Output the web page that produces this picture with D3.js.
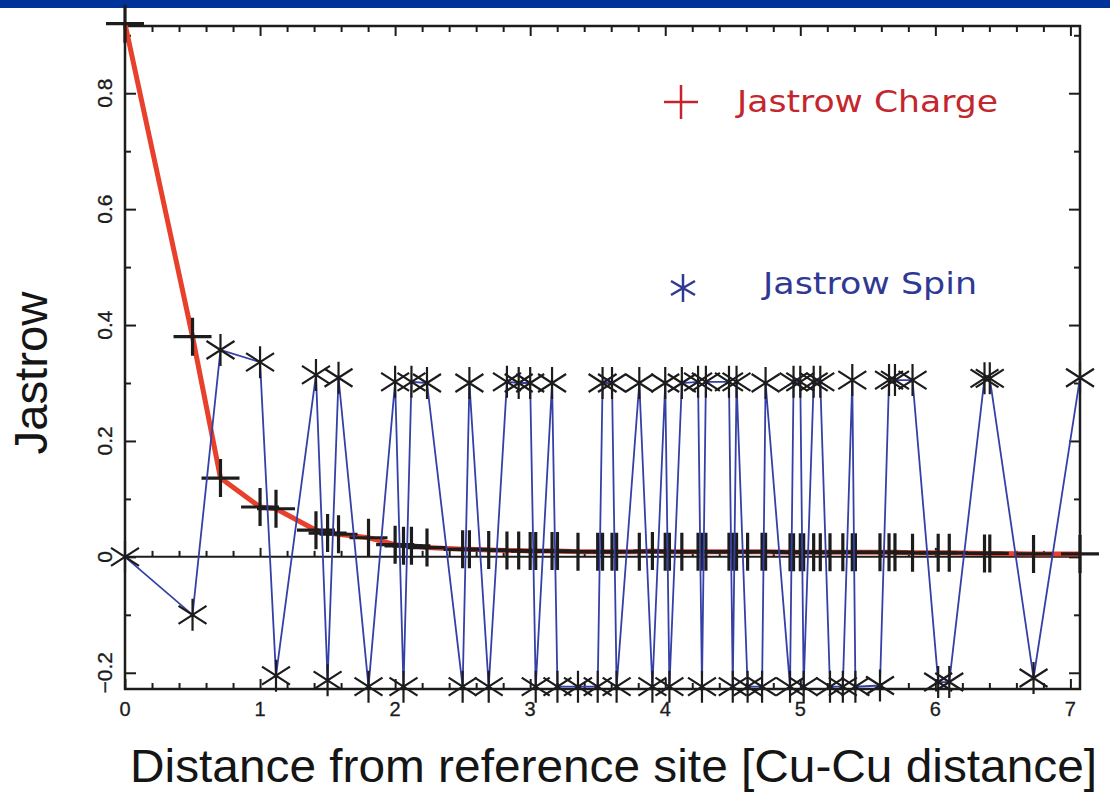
<!DOCTYPE html>
<html>
<head>
<meta charset="utf-8">
<script src="https://cdn.jsdelivr.net/npm/d3@7"></script>
<style>
  body { margin: 0; background: #fff; }
  svg { display: block; }
</style>
</head>
<body>
<div id="chart"></div>
<script>
// distance from reference site, in Cu-Cu units
const distances = [0, 0.5, 0.707, 1.0, 1.118, 1.414, 1.5, 1.581, 1.803, 2.0,
  2.062, 2.121, 2.236, 2.5, 2.55, 2.693, 2.828, 2.915, 3.0, 3.041,
  3.162, 3.202, 3.354, 3.5, 3.536, 3.606, 3.64, 3.808, 3.905, 4.0,
  4.031, 4.123, 4.243, 4.272, 4.301, 4.472, 4.5, 4.528, 4.61, 4.717,
  4.743, 4.924, 4.95, 5.0, 5.025, 5.099, 5.148, 5.22, 5.315, 5.385,
  5.408, 5.59, 5.657, 5.701, 5.831, 6.021, 6.103, 6.364, 6.403, 6.727, 7.071]

// Jastrow charge
const charge = [0.92, 0.38, 0.136, 0.086, 0.083, 0.046, 0.041, 0.039, 0.033, 0.021,
  0.019, 0.019, 0.016, 0.013, 0.013, 0.012, 0.011, 0.011, 0.010, 0.010,
  0.010, 0.010, 0.009, 0.009, 0.009, 0.009, 0.009, 0.009, 0.010, 0.009,
  0.009, 0.009, 0.009, 0.009, 0.009, 0.009, 0.009, 0.009, 0.009, 0.009,
  0.009, 0.008, 0.008, 0.008, 0.008, 0.008, 0.008, 0.008, 0.008, 0.008,
  0.008, 0.008, 0.008, 0.008, 0.007, 0.007, 0.007, 0.006, 0.006, 0.005, 0.005]

// Jastrow spin
const spin = [0, -0.10, 0.357, 0.336, -0.205, 0.314, -0.213, 0.309, -0.224, 0.302,
  -0.224, 0.302, 0.300, -0.224, 0.300, -0.224, 0.302, 0.300, 0.300, -0.224,
  0.300, -0.224, -0.224, -0.224, 0.300, 0.300, -0.224, 0.300, -0.224, 0.300,
  -0.224, 0.300, 0.302, -0.224, 0.302, 0.302, -0.224, 0.302, -0.224, -0.224,
  0.300, -0.224, 0.302, 0.302, -0.224, 0.302, 0.302, -0.224, -0.224, 0.305,
  -0.224, -0.222, 0.305, 0.305, 0.305, -0.216, -0.216, 0.308, 0.308, -0.209, 0.309]

const xMajor = [0, 1, 2, 3, 4, 5, 6, 7]
const xMinor = d3.range(0.2, 7.05, 0.2).filter(v => Math.abs(v - Math.round(v)) > 0.01)
const yMajor = [-0.2, 0, 0.2, 0.4, 0.6, 0.8]
const yMinor = [-0.1, 0.1, 0.3, 0.5, 0.7, 0.9]
const yLabels = ['\u22120.2', '0', '0.2', '0.4', '0.6', '0.8']

const W = 1110, H = 793
const mLeft = 125, mRight = 1080, mTop = 26, mBottom = 689

const svg = d3.select('#chart')
  .append('svg')
    .attr('width', W)
    .attr('height', H)

svg.append('rect')
  .attr('width', W).attr('height', H)
  .attr('fill', '#fff')

// blue header strip
svg.append('rect')
  .attr('x', 0).attr('y', 0)
  .attr('width', W).attr('height', 8)
  .attr('fill', '#003399')

const x = d3.scaleLinear().domain([0, 7.071]).range([mLeft, mRight])
const y = d3.scaleLinear().domain([-0.228, 0.916]).range([mBottom, mTop])

const ink = '#1c1c1c'

// frame ticks via d3 axes, domains removed
function ticks(axis, tx, ty) {
  const g = svg.append('g')
    .attr('transform', `translate(${tx},${ty})`)
    .call(axis)
  g.select('.domain').remove()
  g.selectAll('line').attr('stroke', ink).attr('stroke-width', 2)
  g.selectAll('text').remove()
  return g
}

ticks(d3.axisBottom(x).tickValues(xMajor).tickSize(-10), 0, mBottom)
ticks(d3.axisBottom(x).tickValues(xMinor).tickSize(-6), 0, mBottom)
ticks(d3.axisTop(x).tickValues(xMajor).tickSize(-10), 0, mTop)
ticks(d3.axisTop(x).tickValues(xMinor).tickSize(-6), 0, mTop)
ticks(d3.axisLeft(y).tickValues(yMajor).tickSize(-11), mLeft, 0)
ticks(d3.axisLeft(y).tickValues(yMinor).tickSize(-6), mLeft, 0)
ticks(d3.axisRight(y).tickValues(yMajor).tickSize(-11), mRight, 0)
ticks(d3.axisRight(y).tickValues(yMinor).tickSize(-6), mRight, 0)

// zero line with its own ticks
svg.append('line')
  .attr('x1', mLeft).attr('x2', mRight)
  .attr('y1', y(0)).attr('y2', y(0))
  .attr('stroke', ink).attr('stroke-width', 2)
ticks(d3.axisTop(x).tickValues(xMinor).tickSize(6), 0, y(0))
ticks(d3.axisTop(x).tickValues(xMajor.slice(1, 7)).tickSize(9), 0, y(0))

svg.append('rect')
  .attr('x', mLeft).attr('y', mTop)
  .attr('width', mRight - mLeft).attr('height', mBottom - mTop)
  .attr('fill', 'none')
  .attr('stroke', ink)
  .attr('stroke-width', 2.5)

// tick labels
svg.append('g')
  .selectAll('text')
  .data(xMajor)
  .enter()
  .append('text')
    .attr('x', d => x(d))
    .attr('y', 716)
    .attr('text-anchor', 'middle')
    .style('font-family', '"Liberation Sans", Arial, sans-serif')
    .style('font-size', '20px')
    .attr('fill', ink)
    .attr('stroke', ink)
    .attr('stroke-width', 0.3)
    .text(d => d)

svg.append('g')
  .selectAll('text')
  .data(yMajor)
  .enter()
  .append('text')
    .attr('transform', d => `translate(${mLeft - 13},${y(d)}) rotate(-90)`)
    .attr('text-anchor', 'middle')
    .style('font-family', '"Liberation Sans", Arial, sans-serif')
    .style('font-size', '21px')
    .attr('fill', ink)
    .attr('stroke', ink)
    .attr('stroke-width', 0.3)
    .text((d, i) => yLabels[i])

// axis titles
svg.append('text')
  .attr('x', 130)
  .attr('y', 782)
  .attr('textLength', 967)
  .attr('lengthAdjust', 'spacingAndGlyphs')
  .style('font-family', '"Liberation Sans", Arial, sans-serif')
  .style('font-size', '46px')
  .attr('fill', '#151515')
  .text('Distance from reference site [Cu-Cu distance]')

svg.append('text')
  .attr('transform', 'translate(47,373) rotate(-90)')
  .attr('text-anchor', 'middle')
  .attr('textLength', 163)
  .attr('lengthAdjust', 'spacingAndGlyphs')
  .style('font-family', '"Liberation Sans", Arial, sans-serif')
  .style('font-size', '47px')
  .attr('fill', '#151515')
  .text('Jastrow')

const pts = distances.map((d, i) => ({ d, c: charge[i], s: spin[i] }))

// marker shapes
const plusPath = r => `M${-r},0H${r}M0,${-r}V${r}`
const starPath = (v, dx, dy) => `M0,${-v}V${v}M${-dx},${-dy}L${dx},${dy}M${-dx},${dy}L${dx},${-dy}`

// charge line
svg.append('path')
  .datum(pts)
  .attr('d', d3.line().x(p => x(p.d)).y(p => y(p.c)))
  .attr('fill', 'none')
  .attr('stroke', '#e8402b')
  .attr('stroke-width', 5)
  .attr('stroke-linejoin', 'round')

svg.append('g')
  .selectAll('path')
  .data(pts)
  .enter()
  .append('path')
    .attr('transform', p => `translate(${x(p.d)},${y(p.c)})`)
    .attr('d', plusPath(19))
    .attr('stroke', ink)
    .attr('stroke-width', 3.2)
    .attr('fill', 'none')

// spin line
svg.append('path')
  .datum(pts)
  .attr('d', d3.line().x(p => x(p.d)).y(p => y(p.s)))
  .attr('fill', 'none')
  .attr('stroke', '#3540a6')
  .attr('stroke-width', 1.8)

svg.append('g')
  .selectAll('path')
  .data(pts)
  .enter()
  .append('path')
    .attr('transform', p => `translate(${x(p.d)},${y(p.s)})`)
    .attr('d', starPath(16, 14, 9))
    .attr('stroke', ink)
    .attr('stroke-width', 2.2)
    .attr('fill', 'none')

// legend
svg.append('path')
  .attr('transform', 'translate(681,102)')
  .attr('d', plusPath(17))
  .attr('stroke', '#c4232c')
  .attr('stroke-width', 2.5)

svg.append('text')
  .attr('x', 737).attr('y', 112)
  .attr('textLength', 261)
  .attr('lengthAdjust', 'spacingAndGlyphs')
  .style('font-family', '"DejaVu Sans", sans-serif')
  .style('font-size', '30px')
  .attr('fill', '#c4262e')
  .text('Jastrow Charge')

svg.append('path')
  .attr('transform', 'translate(683,288)')
  .attr('d', starPath(14, 12, 7))
  .attr('stroke', '#2f3994')
  .attr('stroke-width', 2.5)

svg.append('text')
  .attr('x', 763).attr('y', 294)
  .attr('textLength', 214)
  .attr('lengthAdjust', 'spacingAndGlyphs')
  .style('font-family', '"DejaVu Sans", sans-serif')
  .style('font-size', '30px')
  .attr('fill', '#2f3994')
  .text('Jastrow Spin')
</script>
</body>
</html>
